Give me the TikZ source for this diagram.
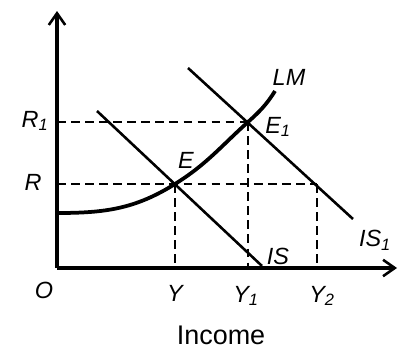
\documentclass[tikz,border=0pt]{standalone}
\usepackage{fontspec}
\setmainfont{Liberation Sans}
\usetikzlibrary{arrows.meta}

\begin{document}
\begin{tikzpicture}[x=0.03cm, y=0.03cm,
        axis/.style={line width=2.6pt, -{Straight Barb[length=10pt, width=14pt, line width=2.2pt]}},
        curve/.style={line width=2.2pt},
        guide/.style={line width=2.3pt, dash pattern=on 7.5pt off 4.5pt},
        lbl/.style={font=\fontsize{20}{20}\selectfont\itshape, inner sep=1pt}
    ]
        \useasboundingbox (0, 0) rectangle (398, 353);

        % Points
        \coordinate (O) at (57, 85);
        \coordinate (E) at (175, 169);
        \coordinate (E1) at (248, 231);
        \coordinate (F) at (317, 169);

        % Axes
        \draw[axis] (O) -- (57, 342) coordinate (ytop);
        \draw[axis] (O) -- (397, 85) coordinate (xend);

        % Dashed guides
        \draw[guide] (57, 231) coordinate (r1) -- (E1);
        \draw[guide] (57, 169) coordinate (r) -- (F);
        \draw[guide] (E) -- (175, 85) coordinate (y);
        \draw[guide] (E1) -- (248, 85) coordinate (y1);
        \draw[guide] (F) -- (317, 85) coordinate (y2);

        % IS curves
        \draw[curve] (97, 242) coordinate (is0) -- (262, 87) coordinate (is);
        \draw[curve] (188, 285) coordinate (isa) -- (353, 134) coordinate (isb);

        % LM curve
        \draw[line width=3.2pt] (57, 140) to[out=0, in=212] (E)
            to[out=32, in=222] (E1) to[out=42, in=238] (275, 262) coordinate (lm);

        % Labels
        \node[lbl] at (35, 232) {R\textsubscript{1}};
        \node[lbl] at (33, 171) {R};
        \node[lbl] at (44, 63) {O};
        \node[lbl] at (175, 60) {Y};
        \node[lbl] at (246, 57) {Y\textsubscript{1}};
        \node[lbl] at (322, 57) {Y\textsubscript{2}};
        \node[lbl] at (289, 276) {LM};
        \node[lbl] at (278, 226) {E\textsubscript{1}};
        \node[lbl] at (186, 193) {E};
        \node[lbl] at (278, 97) {IS};
        \node[lbl] at (375, 113) {IS\textsubscript{1}};
        \node[font=\fontsize{23}{23}\selectfont] at (221, 18) {Income};
    \end{tikzpicture}
\end{document}
